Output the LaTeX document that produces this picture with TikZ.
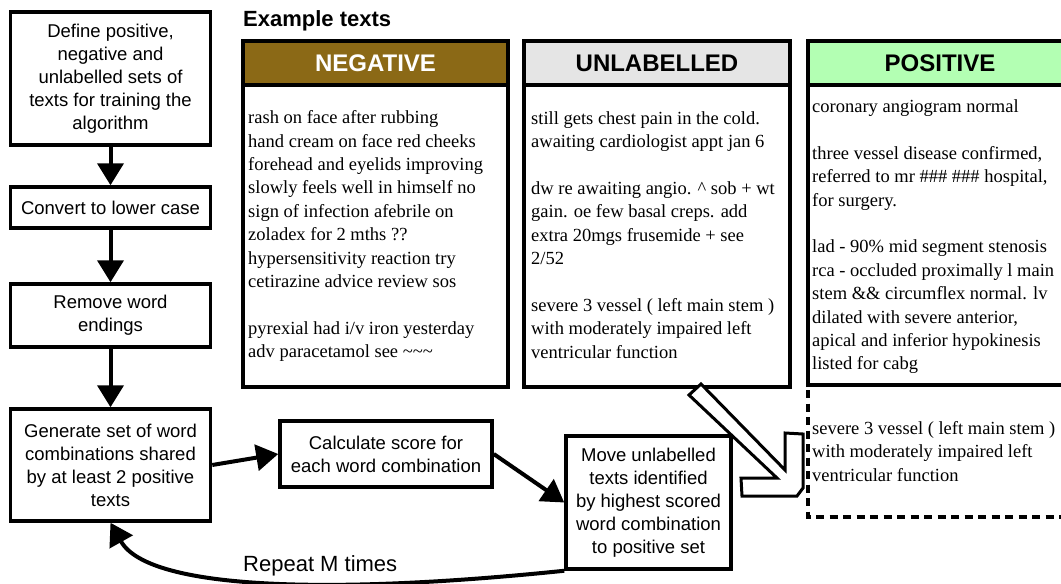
\documentclass[tikz,border=0pt]{standalone}
\usepackage{fontspec}
\setmainfont{Liberation Sans}
\newfontfamily\notefont{Liberation Serif}
\usepackage{tikz}
\usetikzlibrary{
	arrows.meta,
	positioning
}
\definecolor{negative}{RGB}{139,105,22}
\definecolor{unlabelled}{RGB}{229,229,229}
\definecolor{positive}{RGB}{179,255,179}
\tikzset{
  % arrow
	cstra/.style      ={-{Triangle[length=22pt,width=26pt]}, line width=4pt}, % right arrow
	csthollow/.style  ={line width=3pt, fill=white, line join=miter},     % block arrow
  % line
	cstpanel/.style   ={line width=4pt},
	cstdash/.style    ={line width=4pt, dash pattern=on 8pt off 5.5pt},
  % node
	cstbox/.style     ={draw=black, fill=white, line width=3.5pt, inner sep=0pt, align=center, font=\fontsize{18.5}{23}\selectfont},
	csthead/.style    ={inner sep=0pt, font=\fontsize{24}{28}\selectfont\bfseries},
	cstnote/.style    ={anchor=north west, inner sep=0pt, align=left, font=\notefont\fontsize{18.5}{23.4}\selectfont}
}

\begin{document}
\begin{tikzpicture}[x=1pt,y=-1pt]
	\useasboundingbox (0,0) rectangle (1061,584);
	\clip (0,0) rectangle (1061,584);
	% flow chart
	\node[cstbox, minimum width=200pt, minimum height=133pt] (define) at (110.5,78.5)
		{Define positive,\\negative and\\unlabelled sets of\\texts for training the\\algorithm};
	\node[cstbox, minimum width=200pt, minimum height=41pt] (lower) at (110.5,207.5) {Convert to lower case};
	\node[cstbox, minimum width=200pt, minimum height=63pt] (endings) at (110.5,315.5) {Remove word\\endings};
	\node[cstbox, minimum width=200pt, minimum height=112pt] (generate) at (110.5,465)
		{Generate set of word\\combinations shared\\by at least 2 positive\\texts};
	\node[cstbox, minimum width=212pt, minimum height=66pt] (score) at (386,454)
		{Calculate score for\\each word combination};
	\node[cstbox, minimum width=165pt, minimum height=133pt] (move) at (648.5,502.5)
		{Move unlabelled\\texts identified\\by highest scored\\word combination\\to positive set};
	\draw[cstra] (define) -- (lower);
	\draw[cstra] (lower) -- (endings);
	\draw[cstra] (endings) -- (generate);
	\draw[cstra] (generate.east) -- (score.west);
	\draw[cstra] (score.east) -- (move.west);
	\draw[cstra] (move.south west) .. controls (350,593) and (150,593) .. (generate.south);
	\node[anchor=west, inner sep=0pt, font=\fontsize{22}{26}\selectfont] (repeat) at (243,566) {Repeat M times};
	% example texts
	\node[anchor=west, inner sep=0pt, font=\fontsize{22}{26}\selectfont\bfseries] (examples) at (243,21) {Example texts};
	\draw[cstpanel, fill=negative] (243,41) rectangle (508,85);
	\draw[cstpanel] (243,85) rectangle (508,387);
	\draw[cstpanel, fill=unlabelled] (524,41) rectangle (790,85);
	\draw[cstpanel] (524,85) rectangle (790,387);
	\draw[cstpanel, fill=positive] (808,41) rectangle (1080,85);
	\draw[cstpanel] (808,387) |- (808,85) -- (1080,85) (808,385) -- (1080,385);
	\draw[cstdash] (808,390) -- (808,517) -- (1080,517);
	\node[csthead, text=white] (neghead) at (375.5,63) {NEGATIVE};
	\node[csthead] (unlhead) at (657,63) {UNLABELLED};
	\node[csthead] (poshead) at (940,63) {POSITIVE};
	\node[cstnote] (negtext) at (248,110.5) {rash on face after rubbing\\hand cream on face red cheeks\\forehead and eyelids improving\\slowly feels well in himself no\\sign of infection afebrile on\\zoladex for 2 mths ??\\hypersensitivity reaction try\\cetirazine advice review sos\\[23.4pt]pyrexial had i/v iron yesterday\\adv paracetamol see \textasciitilde\textasciitilde\textasciitilde};
	\node[cstnote] (unltext) at (531,111) {still gets chest pain in the cold.\\awaiting cardiologist appt jan 6\\[23.4pt]dw re awaiting angio. \textasciicircum\ sob + wt\\gain. oe few basal creps. add\\extra 20mgs frusemide + see\\2/52\\[23.4pt]severe 3 vessel ( left main stem )\\with moderately impaired left\\ventricular function};
	\node[cstnote] (postext) at (812,99.5) {coronary angiogram normal\\[23.4pt]three vessel disease confirmed,\\referred to mr \#\#\# \#\#\# hospital,\\for surgery.\\[23.4pt]lad - 90\% mid segment stenosis\\rca - occluded proximally l main\\stem \&\& circumflex normal. lv\\dilated with severe anterior,\\apical and inferior hypokinesis\\listed for cabg};
	\node[cstnote] (movedtext) at (812,421) {severe 3 vessel ( left main stem )\\with moderately impaired left\\ventricular function};
	% block arrow
	\draw[csthollow] (689,395) -- (701,384) -- (785,470) -- (785,433) -- (803,434) -- (803,488)
		-- (797,496) -- (742,496) -- (741,478) -- (777,478) -- cycle;
\end{tikzpicture}
\end{document}
